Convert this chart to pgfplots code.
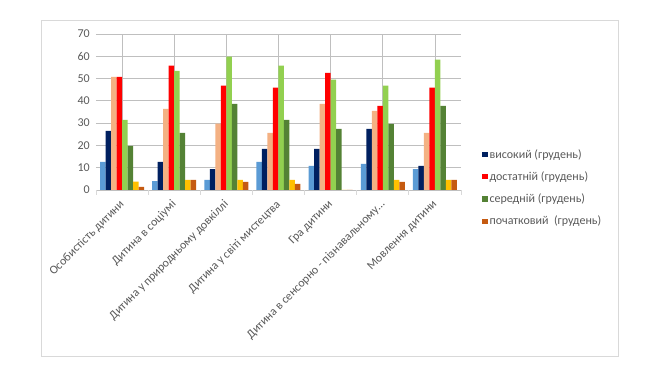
\documentclass[border=0pt]{standalone}
\usepackage{pgfplots}
\pgfplotsset{compat=1.18}
\usepackage{fontspec}
\setmainfont{Carlito}
\definecolor{txt}{HTML}{595959}
\definecolor{grid}{HTML}{D9D9D9}
\definecolor{cLB}{HTML}{5B9BD5}
\definecolor{cNV}{HTML}{002060}
\definecolor{cPC}{HTML}{F4B183}
\definecolor{cRD}{HTML}{FF0000}
\definecolor{cLG}{HTML}{92D050}
\definecolor{cDG}{HTML}{548235}
\definecolor{cYL}{HTML}{FFC000}
\definecolor{cOR}{HTML}{C55A11}
\begin{document}
\begin{tikzpicture}
\useasboundingbox (0pt,0pt) rectangle (649pt,367pt);
\draw[grid, line width=0.8pt] (41pt,11pt) rectangle (618pt,347pt);
\begin{axis}[
  at={(96pt,177pt)}, anchor=south west,
  scale only axis, width=365pt, height=156pt,
  xmin=-0.5, xmax=6.5, ymin=0, ymax=70,
  /pgf/number format/assume math mode=true,
  ytick={0,10,...,70},
  xtick={0,...,6},
  xticklabels={{Особистість дитини}, {Дитина в соціумі}, {Дитина у природньому довкіллі}, {Дитина у світі мистецтва}, {Гра дитини}, {Дитина в сенсорно - пізнавальному\ldots}, {Мовлення дитини}},
  minor xtick={-0.5,0.5,1.5,2.5,3.5,4.5,5.5,6.5},
  xtick pos=bottom, ytick pos=left,
  major tick length=0pt, minor tick length=5pt, tick align=outside,
  minor x tick style={grid, line width=0.8pt},
  axis line style={draw=none},
  ymajorgrids, major grid style={grid, line width=0.8pt},
  tick label style={font=\fontsize{12}{14}\selectfont, text=txt},
  xticklabel style={rotate=45, anchor=east, inner sep=1pt, xshift=1.5pt},
  xticklabel shift=13pt,
  yticklabel style={inner sep=6pt},
  ybar=0pt, bar width=5.5pt,
  every axis plot/.append style={draw=none},
  legend style={at={(1.058,0.275)}, anchor=north west, draw=none, fill=none,
    font=\fontsize{12}{14}\selectfont, text=txt, row sep=8pt, inner sep=0pt},
  legend cell align=left,
  legend image code/.code={\path[#1,draw=none] (0pt,-2.6pt) rectangle (5.2pt,2.6pt);},
]
\addplot[fill=cLB, bar shift=-19.25pt, forget plot] coordinates {(0,12.6) (1,4) (2,4.5) (3,12.6) (4,10.8) (5,11.7) (6,9.4)};
\addplot[fill=cNV, bar shift=-13.75pt] coordinates {(0,26.5) (1,12.6) (2,9.4) (3,18.4) (4,18.4) (5,27.4) (6,10.8)};
\addlegendentry{високий (грудень)}
\addplot[fill=cPC, bar shift=-8.25pt, forget plot] coordinates {(0,50.8) (1,36.4) (2,29.8) (3,25.6) (4,38.7) (5,35.5) (6,25.6)};
\addplot[fill=cRD, bar shift=-2.75pt] coordinates {(0,50.8) (1,55.8) (2,46.8) (3,45.9) (4,52.6) (5,37.8) (6,45.9)};
\addlegendentry{достатній (грудень)}
\addplot[fill=cLG, bar shift=2.75pt, forget plot] coordinates {(0,31.5) (1,53.5) (2,59.8) (3,55.8) (4,49.5) (5,46.8) (6,58.5)};
\addplot[fill=cDG, bar shift=8.25pt] coordinates {(0,19.8) (1,25.6) (2,38.7) (3,31.5) (4,27.4) (5,29.7) (6,37.8)};
\addlegendentry{середній (грудень)}
\addplot[fill=cYL, bar shift=13.75pt, forget plot] coordinates {(0,3.8) (1,4.5) (2,4.5) (3,4.5) (4,0) (5,4.5) (6,4.5)};
\addplot[fill=cOR, bar shift=19.25pt] coordinates {(0,1.4) (1,4.5) (2,3.6) (3,2.7) (4,0) (5,3.6) (6,4.5)};
\addlegendentry{початковий\ \ (грудень)}
\end{axis}
\end{tikzpicture}
\end{document}
